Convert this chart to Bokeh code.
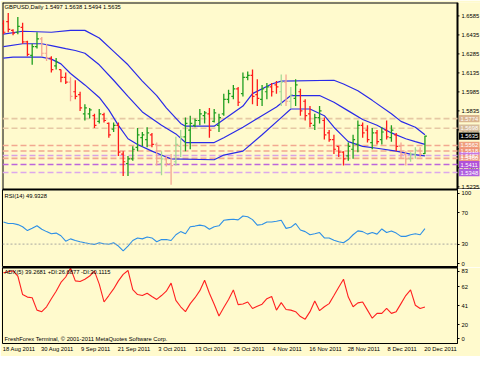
import numpy as np
from bokeh.plotting import figure
from bokeh.layouts import column
from bokeh.models import Range1d, LinearAxis, FixedTicker, Label, Span
from bokeh.core.properties import value
from bokeh.embed import file_html
from bokeh.resources import INLINE

# ---------------- data ----------------
chart_title = "GBPUSD,Daily  1.5497 1.5638 1.5494 1.5635"
rsi_title = "RSI(14) 49.9328"
adx_title = "ADX(5) 39.2681 +DI:26.6877 -DI:30.1115"
copyright_text = "FreshForex Terminal, \u00a9 2001-2011 MetaQuotes Software Corp."

opens = [1.6524, 1.6540, 1.6471, 1.6456, 1.6494, 1.6380, 1.6274, 1.6343, 1.6403, 1.6290,
         1.6252, 1.6191, 1.6161, 1.6100, 1.6062, 1.5986, 1.5964, 1.5812, 1.5812, 1.5797,
         1.5752, 1.5805, 1.5736, 1.5691, 1.5721, 1.5494, 1.5418, 1.5456, 1.5547, 1.5623,
         1.5608, 1.5646, 1.5570, 1.5418, 1.5449, 1.5418, 1.5433, 1.5555, 1.5630, 1.5683,
         1.5721, 1.5759, 1.5797, 1.5812, 1.5752, 1.5721, 1.5812, 1.5926, 1.5949, 1.6009,
         1.5971, 1.6100, 1.6115, 1.5964, 1.5926, 1.5986, 1.6024, 1.6040, 1.5986, 1.6062,
         1.5911, 1.5933, 1.5986, 1.5911, 1.5812, 1.5721, 1.5782, 1.5759, 1.5661, 1.5608,
         1.5555, 1.5509, 1.5479, 1.5532, 1.5570, 1.5721, 1.5683, 1.5585, 1.5661, 1.5608,
         1.5683, 1.5623, 1.5646, 1.5555, 1.5494, 1.5456, 1.5494, 1.5524, 1.5497]
highs = [1.6551, 1.6608, 1.6479, 1.6577, 1.6532, 1.6388, 1.6365, 1.6456, 1.6418, 1.6365,
         1.6267, 1.6252, 1.6161, 1.6138, 1.6100, 1.6077, 1.5986, 1.5888, 1.5858, 1.5812,
         1.5850, 1.5820, 1.5744, 1.5744, 1.5744, 1.5517, 1.5479, 1.5555, 1.5699, 1.5668,
         1.5706, 1.5661, 1.5585, 1.5517, 1.5479, 1.5494, 1.5630, 1.5683, 1.5782, 1.5797,
         1.5774, 1.5850, 1.5835, 1.5858, 1.5850, 1.5812, 1.5971, 1.6002, 1.6040, 1.6024,
         1.6138, 1.6146, 1.6161, 1.6085, 1.6040, 1.6055, 1.6055, 1.6070, 1.6123, 1.6123,
         1.6024, 1.6085, 1.6009, 1.5926, 1.5873, 1.5812, 1.5873, 1.5782, 1.5683, 1.5646,
         1.5555, 1.5517, 1.5585, 1.5646, 1.5759, 1.5744, 1.5721, 1.5699, 1.5683, 1.5706,
         1.5759, 1.5721, 1.5661, 1.5585, 1.5517, 1.5509, 1.5547, 1.5547, 1.5638]
lows = [1.6441, 1.6456, 1.6433, 1.6441, 1.6365, 1.6267, 1.6199, 1.6327, 1.6267, 1.6229,
        1.6138, 1.6161, 1.6062, 1.6047, 1.5911, 1.5926, 1.5835, 1.5759, 1.5774, 1.5699,
        1.5736, 1.5744, 1.5623, 1.5668, 1.5479, 1.5320, 1.5320, 1.5441, 1.5517, 1.5555,
        1.5547, 1.5547, 1.5403, 1.5327, 1.5396, 1.5252, 1.5403, 1.5471, 1.5517, 1.5532,
        1.5706, 1.5721, 1.5736, 1.5623, 1.5744, 1.5668, 1.5797, 1.5896, 1.5926, 1.5873,
        1.5949, 1.6077, 1.5888, 1.5873, 1.5873, 1.5926, 1.5949, 1.5971, 1.5873, 1.5873,
        1.5858, 1.5873, 1.5797, 1.5759, 1.5706, 1.5683, 1.5736, 1.5608, 1.5592, 1.5494,
        1.5471, 1.5403, 1.5441, 1.5456, 1.5509, 1.5623, 1.5585, 1.5532, 1.5570, 1.5570,
        1.5608, 1.5592, 1.5517, 1.5456, 1.5403, 1.5433, 1.5456, 1.5471, 1.5494]
closes = [1.6456, 1.6479, 1.6449, 1.6502, 1.6380, 1.6282, 1.6343, 1.6403, 1.6290, 1.6252,
          1.6161, 1.6221, 1.6100, 1.6062, 1.5949, 1.5949, 1.5858, 1.5858, 1.5843, 1.5721,
          1.5812, 1.5759, 1.5646, 1.5721, 1.5509, 1.5433, 1.5456, 1.5532, 1.5646, 1.5646,
          1.5661, 1.5570, 1.5433, 1.5456, 1.5418, 1.5403, 1.5570, 1.5630, 1.5736, 1.5736,
          1.5759, 1.5812, 1.5820, 1.5683, 1.5820, 1.5782, 1.5926, 1.5971, 1.6009, 1.5903,
          1.6100, 1.6115, 1.5949, 1.5933, 1.6009, 1.6024, 1.5986, 1.6024, 1.6062, 1.5911,
          1.5964, 1.6040, 1.5835, 1.5797, 1.5736, 1.5782, 1.5835, 1.5646, 1.5608, 1.5532,
          1.5509, 1.5456, 1.5555, 1.5608, 1.5721, 1.5661, 1.5608, 1.5661, 1.5592, 1.5668,
          1.5630, 1.5683, 1.5555, 1.5494, 1.5456, 1.5494, 1.5524, 1.5494, 1.5635]

# channel lines (bar index, price)
upper_bars = [0, 4, 10, 14, 17, 20, 23, 26, 29, 32, 34, 37, 38, 44, 46, 50, 52, 56, 58, 69, 71, 74, 77, 81, 83, 86, 88]
upper_vals = [1.6441, 1.6464, 1.6456, 1.6471, 1.6471, 1.6411, 1.6305, 1.6199, 1.6070, 1.5956, 1.5858, 1.5736, 1.5714,
              1.5714, 1.5767, 1.5873, 1.5971, 1.6047, 1.6070, 1.6077, 1.6047, 1.5994, 1.5918, 1.5812, 1.5752, 1.5706, 1.5646]
middle_bars = [0, 4, 8, 10, 13, 15, 17, 20, 23, 26, 29, 33, 36, 38, 44, 46, 50, 53, 57, 60, 66, 69, 72, 75, 78, 81, 84, 86, 88]
middle_vals = [1.6343, 1.6365, 1.6365, 1.6350, 1.6327, 1.6312, 1.6290, 1.6199, 1.6077, 1.5949, 1.5827, 1.5721, 1.5653,
               1.5585, 1.5585, 1.5623, 1.5706, 1.5774, 1.5865, 1.5956, 1.5956, 1.5903, 1.5835, 1.5767, 1.5721, 1.5661,
               1.5615, 1.5592, 1.5570]
lower_bars = [0, 2, 8, 10, 12, 14, 17, 20, 22, 24, 26, 28, 31, 34, 35, 44, 46, 50, 54, 58, 60, 64, 67, 69, 71, 72, 75, 78, 82, 85, 88]
lower_vals = [1.6252, 1.6259, 1.6259, 1.6244, 1.6206, 1.6130, 1.6040, 1.5941, 1.5843, 1.5721, 1.5615, 1.5570, 1.5517,
              1.5471, 1.5456, 1.5449, 1.5486, 1.5517, 1.5646, 1.5782, 1.5850, 1.5850, 1.5797, 1.5706, 1.5630, 1.5592,
              1.5555, 1.5540, 1.5517, 1.5494, 1.5479]

level_values = [1.5774, 1.5698, 1.5562, 1.5518, 1.5482, 1.5460, 1.5411, 1.5348]
level_texts = ["1.5774", "1.5698", "1.5562", "1.5518", "1.5482", "1.5460", "1.5411", "1.5348"]
last_price = 1.5635
last_price_text = "1.5635"

price_ticks = [1.6585, 1.6435, 1.6285, 1.6135, 1.5985, 1.5835, 1.5685, 1.5535, 1.5385, 1.5235]
price_tick_texts = ["1.6585", "1.6435", "1.6285", "1.6135", "1.5985", "1.5835", "1.5685", "1.5535", "1.5385", "1.5235"]

rsi_values = [58.4, 56.4, 56.5, 55.0, 52.2, 47.3, 50.2, 53.5, 49.0, 46.0,
              43.2, 44.1, 40.7, 33.7, 36.7, 34.6, 33.0, 31.7, 30.5, 29.6,
              31.7, 30.5, 29.8, 31.7, 27.5, 21.4, 27.5, 34.6, 37.9, 36.7,
              39.1, 37.9, 33.0, 35.8, 35.8, 34.6, 42.0, 46.0, 43.2, 52.2,
              53.1, 54.3, 53.1, 49.0, 52.2, 53.5, 60.5, 61.4, 61.8, 61.0,
              66.0, 65.0, 61.4, 54.3, 55.2, 58.4, 58.4, 59.3, 60.5, 50.2,
              51.5, 56.4, 48.1, 46.0, 42.0, 43.2, 44.8, 37.9, 37.9, 34.9,
              33.0, 31.7, 35.8, 42.0, 46.9, 46.0, 42.8, 44.8, 42.8, 49.4,
              44.8, 46.9, 44.1, 39.9, 39.9, 42.0, 43.2, 42.0, 49.93]
rsi_level = 30

adx_values = [77.2, 78.3, 79.4, 73.6, 53.1, 50.3, 49.6, 35.9, 34.2, 39.6,
              48.5, 56.8, 66.5, 72.5, 82.5, 68.2, 67.5, 70.0, 73.6, 79.0,
              64.6, 44.9, 52.0, 59.3, 68.2, 75.4, 79.7, 58.5, 53.1, 52.0,
              54.6, 51.0, 47.7, 52.0, 56.8, 65.7, 46.7, 39.6, 34.2, 43.1,
              49.6, 57.4, 68.9, 54.6, 42.4, 29.4, 38.8, 47.7, 58.2, 42.0,
              42.7, 44.9, 37.7, 40.2, 42.4, 48.5, 51.0, 35.9, 44.2, 36.6,
              35.9, 34.2, 28.8, 25.9, 34.2, 46.0, 35.3, 39.6, 43.1, 52.0,
              61.1, 70.0, 50.3, 39.6, 43.9, 44.9, 35.9, 27.0, 32.3, 32.3,
              37.7, 32.3, 34.2, 43.1, 52.0, 58.2, 41.3, 37.7, 39.27]

date_labels = ["18 Aug 2011", "30 Aug 2011", "9 Sep 2011", "21 Sep 2011", "3 Oct 2011", "13 Oct 2011",
               "25 Oct 2011", "4 Nov 2011", "16 Nov 2011", "28 Nov 2011", "8 Dec 2011", "20 Dec 2011"]
date_label_bars = [0, 8, 16, 24, 32, 40, 48, 56, 64, 72, 80, 88]

# ---------------- style ----------------
BG = "#FFFACD"
FONT = "Liberation Sans"
FS = "5.8px"
FRAME_W = 455          # chart area width (excluding the price scale)
SCALE_W = 23           # price scale width
faded_bars = [8, 9, 14, 32, 33, 34, 35, 36, 37, 58, 59, 60, 83, 84, 85, 86, 87]
level_line_colors = ["#E6C8A4", "#E6C8A4", "#F2A890", "#F2A890", "#D8A0E6", "#F2A890", "#BC66DC", "#DCA8EC"]
level_box_colors = ["#D9B48F", "#D6BC9C", "#EFA07F", "#F09478", "#C878E0", "#EE9A86", "#B050D8", "#B060E0"]

X0, X1 = -0.2, 94.8
px_x = (X1 - X0) / FRAME_W
XR = Range1d(X0, X1)


def make_fig(frame_w, frame_h, xr, yr, top, bottom, right, outline=True):
    f = figure(frame_width=frame_w, frame_height=frame_h, x_range=xr, y_range=yr,
               output_backend="svg", toolbar_location=None,
               min_border_left=2, min_border_right=right, min_border_top=top, min_border_bottom=bottom,
               background_fill_color=BG, border_fill_color=BG,
               outline_line_color="black" if outline else None, outline_line_width=1,
               x_axis_location=None, y_axis_location=None)
    f.xgrid.visible = False
    f.ygrid.visible = False
    return f


def right_axis(f, ticks, overrides=None):
    ax = LinearAxis(ticker=FixedTicker(ticks=ticks))
    ax.major_tick_out = 2
    ax.major_tick_in = 0
    ax.minor_tick_line_color = None
    ax.major_label_standoff = 2
    ax.major_label_text_font = FONT
    ax.major_label_text_font_size = FS
    ax.major_label_text_color = "black"
    ax.axis_line_color = "black"
    ax.major_tick_line_color = "black"
    if overrides:
        ax.major_label_overrides = overrides
    f.add_layout(ax, "right")
    return ax


# ---------- main price panel (frame includes the price scale strip) ----------
MAIN_H = 187
main_y = Range1d(1.5214, 1.6691)
px_main = (main_y.end - main_y.start) / MAIN_H
main_x = Range1d(X0, X1 + SCALE_W * px_x)
p1 = make_fig(FRAME_W + SCALE_W, MAIN_H, main_x, main_y, 2, 0, 0, outline=False)

# frame lines of the chart area
p1.segment([X0, X0, X1], [main_y.start, main_y.end, main_y.start],
           [X0, X1, X1], [main_y.end, main_y.end, main_y.end], line_color="black", line_width=2)
p1.segment([X1], [main_y.start], [X1], [main_y.end], line_color="black", line_width=1)
p1.segment([X0], [main_y.start], [main_x.end], [main_y.start], line_color="black", line_width=2.2)

# horizontal levels
p1.segment([X0] * len(level_values), level_values, [X1] * len(level_values), level_values,
           line_color=level_line_colors, line_width=1.6, line_dash="6 3")

for xs, ys in ((upper_bars, upper_vals), (middle_bars, middle_vals), (lower_bars, lower_vals)):
    p1.line(xs, ys, line_color="#2A2AE8", line_width=1.2)

idx = np.arange(len(opens))
o = np.array(opens); h = np.array(highs); l = np.array(lows); c = np.array(closes)
colors = []
for i in idx:
    up = c[i] >= o[i]
    if i in faded_bars:
        colors.append("#A6D896" if up else "#F5A592")
    else:
        colors.append("#1E9E1E" if up else "#FF1A1A")
tick = 0.42
p1.segment(idx, l, idx, h, line_color=colors, line_width=1.3)
p1.segment(idx - tick, o, idx, o, line_color=colors, line_width=1.2)
p1.segment(idx, c, idx + tick, c, line_color=colors, line_width=1.2)

# price scale: ticks and labels
p1.segment([X1] * len(price_ticks), price_ticks, [X1 + 2 * px_x] * len(price_ticks), price_ticks,
           line_color="black", line_width=1)
p1.text([X1 + 4 * px_x] * len(price_ticks), price_ticks, text=price_tick_texts,
        text_font=value(FONT), text_font_size=value(FS), text_color="black", text_baseline="middle")

# level tags on the price scale
box_l = X1 + 1.5 * px_x
box_r = X1 + 22 * px_x
half_h = 3.6 * px_main
tag_vals = level_values + [last_price]
tag_texts = level_texts + [last_price_text]
tag_colors = level_box_colors + ["black"]
p1.quad(left=box_l, right=box_r, bottom=[v - half_h for v in tag_vals], top=[v + half_h for v in tag_vals],
        fill_color=tag_colors, line_color=None)
p1.text([X1 + 3 * px_x] * len(tag_vals), tag_vals, text=tag_texts,
        text_font=value(FONT), text_font_size=value(FS), text_color="white", text_baseline="middle")

p1.add_layout(Label(x=X0 + 2 * px_x, y=main_y.end - 4.7 * px_main, text=chart_title,
                    text_font=FONT, text_font_size=FS, text_color="black", text_baseline="middle"))

# ---------- RSI panel ----------
RSI_H = 78
rsi_y = Range1d(0, 100)
p2 = make_fig(FRAME_W, RSI_H, XR, rsi_y, 0, 0, SCALE_W)
right_axis(p2, [5, 30, 70, 95.5], overrides={5: "0", 95.5: "100"})
px_rsi = 100 / RSI_H
p2.add_layout(Span(location=rsi_level, dimension="width", line_color="#A8A8A0", line_width=1,
                   line_dash="2 2"))
p2.add_layout(Span(location=rsi_y.end, dimension="width", line_color="black", line_width=2))
p2.add_layout(Span(location=rsi_y.start, dimension="width", line_color="black", line_width=2))
p2.line(idx, rsi_values, line_color="#2D8FE6", line_width=1.1)
p2.add_layout(Label(x=X0 + 2 * px_x, y=rsi_y.end - 6.7 * px_rsi, text=rsi_title,
                    text_font=FONT, text_font_size=FS, text_color="black", text_baseline="middle"))

# ---------- ADX panel ----------
ADX_H = 76
adx_y = Range1d(-1, 83)
p3 = make_fig(FRAME_W, ADX_H, XR, adx_y, 0, 13, SCALE_W)
right_axis(p3, [4.5, 20, 41, 62, 79], overrides={4.5: "0", 79: "83"})
px_adx = (adx_y.end - adx_y.start) / ADX_H
p3.add_layout(Span(location=adx_y.end, dimension="width", line_color="black", line_width=2))
p3.line(idx, adx_values, line_color="#FF2020", line_width=1.1)
p3.add_layout(Label(x=X0 + 2 * px_x, y=adx_y.end - 4.3 * px_adx, text=adx_title,
                    text_font=FONT, text_font_size=FS, text_color="black", text_baseline="middle"))
p3.add_layout(Label(x=X0 + 2 * px_x, y=adx_y.start + 4.3 * px_adx, text=copyright_text,
                    text_font=FONT, text_font_size=FS, text_color="black", text_baseline="middle"))

shift = 3.25
date_ticks = [b + shift for b in date_label_bars]
xax = LinearAxis(ticker=FixedTicker(ticks=date_ticks),
                 major_label_overrides={t: s for t, s in zip(date_ticks, date_labels)})
xax.major_tick_line_color = None
xax.minor_tick_line_color = None
xax.axis_line_color = None
xax.major_tick_out = 0
xax.major_label_standoff = 2
xax.major_label_text_font = FONT
xax.major_label_text_font_size = FS
xax.major_label_text_color = "black"
p3.add_layout(xax, "below")

layout = column(p1, p2, p3, spacing=0)
open("out.html", "w").write(file_html(layout, INLINE))
